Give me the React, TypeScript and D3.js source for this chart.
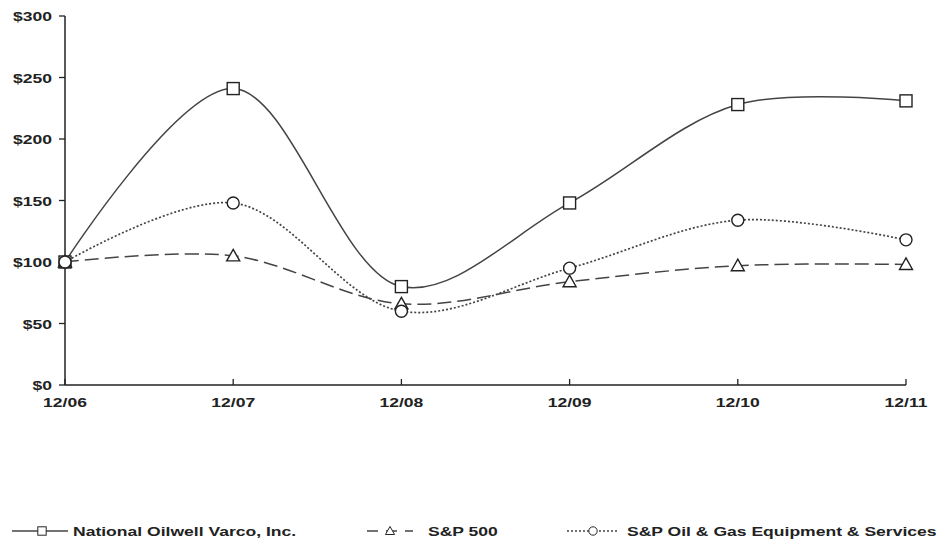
import { useEffect, useRef } from "react";
import * as d3 from "d3";

const periods = ["12/06", "12/07", "12/08", "12/09", "12/10", "12/11"];
const novValues = [100, 241, 80, 148, 228, 231];
const spxValues = [100, 105, 66, 84, 97, 98];
const oilGasValues = [100, 148, 60, 95, 134, 118];
const yTicks = [0, 50, 100, 150, 200, 250, 300];

type Marker = "square" | "triangle" | "circle";

const series: { name: string; values: number[]; dash: string; marker: Marker }[] = [
  { name: "National Oilwell Varco, Inc.", values: novValues, dash: "none", marker: "square" },
  { name: "S&P 500", values: spxValues, dash: "14 6", marker: "triangle" },
  { name: "S&P Oil & Gas Equipment & Services", values: oilGasValues, dash: "2 2", marker: "circle" },
];

const W = 940;
const H = 543;
const FONT = "'Liberation Sans', Arial, sans-serif";
const INK = "#222";
const LINE = "#444";
const SX = 1.3; // reference text is stretched horizontally

function drawMarker(
  g: d3.Selection<SVGGElement, unknown, null, undefined>,
  kind: Marker,
  x: number,
  y: number
) {
  if (kind === "square") {
    g.append("rect")
      .attr("x", x - 6)
      .attr("y", y - 6)
      .attr("width", 12)
      .attr("height", 12)
      .attr("fill", "white")
      .attr("stroke", INK)
      .attr("stroke-width", 1.4);
  } else if (kind === "triangle") {
    g.append("path")
      .attr("d", `M${x},${y - 6.5}L${x + 6.5},${y + 5}L${x - 6.5},${y + 5}Z`)
      .attr("fill", "white")
      .attr("stroke", INK)
      .attr("stroke-width", 1.4);
  } else {
    g.append("circle")
      .attr("cx", x)
      .attr("cy", y)
      .attr("r", 6)
      .attr("fill", "white")
      .attr("stroke", INK)
      .attr("stroke-width", 1.4);
  }
}

function addText(
  g: d3.Selection<SVGGElement, unknown, null, undefined>,
  x: number,
  y: number,
  str: string,
  anchor: string,
  size = 13.5
) {
  g.append("text")
    .attr("transform", `translate(${x},${y}) scale(${SX},1)`)
    .attr("text-anchor", anchor)
    .attr("font-family", FONT)
    .attr("font-weight", "bold")
    .attr("font-size", size)
    .attr("fill", INK)
    .text(str);
}

export default function App() {
  const svgRef = useRef<SVGSVGElement>(null);

  useEffect(() => {
    document.body.style.margin = "0";
    const svg = svgRef.current;
    if (!svg) return;
    const sel = d3.select(svg);
    sel.selectAll("*").remove();
    const root = sel.append("g");

    const x = d3.scalePoint<string>().domain(periods).range([65, 906]);
    const y = d3.scaleLinear().domain([0, 300]).range([385, 16]);

    // y axis
    root.append("line")
      .attr("x1", 65).attr("x2", 65)
      .attr("y1", y(300)).attr("y2", y(0))
      .attr("stroke", INK).attr("stroke-width", 1.5);
    yTicks.forEach((t) => {
      root.append("line")
        .attr("x1", 59).attr("x2", 65)
        .attr("y1", y(t)).attr("y2", y(t))
        .attr("stroke", INK).attr("stroke-width", 1.3);
      addText(root, 52, y(t) + 5, `$${t}`, "end");
    });

    // x axis
    root.append("line")
      .attr("x1", 65).attr("x2", 906)
      .attr("y1", y(0)).attr("y2", y(0))
      .attr("stroke", INK).attr("stroke-width", 1.5);
    periods.forEach((p) => {
      const px = x(p) ?? 0;
      root.append("line")
        .attr("x1", px).attr("x2", px)
        .attr("y1", y(0)).attr("y2", y(0) - 6)
        .attr("stroke", INK).attr("stroke-width", 1.3);
      addText(root, px, 407, p, "middle");
    });

    const line = d3
      .line<number>()
      .x((_, i) => x(periods[i]) ?? 0)
      .y((d) => y(d))
      .curve(d3.curveCatmullRom.alpha(0.5));

    // draw lines then markers
    series.forEach((s) => {
      root.append("path")
        .attr("d", line(s.values) ?? "")
        .attr("fill", "none")
        .attr("stroke", LINE)
        .attr("stroke-width", s.marker === "circle" ? 1.7 : 1.5)
        .attr("stroke-dasharray", s.dash);
    });
    series.forEach((s) => {
      s.values.forEach((v, i) => drawMarker(root, s.marker, x(periods[i]) ?? 0, y(v)));
    });

    // legend
    const legendY = 531;
    const legendItems = [
      { x1: 12, x2: 68, mx: 42, tx: 73 },
      { x1: 367, x2: 413, mx: 390, tx: 428 },
      { x1: 567, x2: 619, mx: 593, tx: 627 },
    ];
    series.forEach((s, i) => {
      const it = legendItems[i];
      const lg = root.append("g");
      lg.append("line")
        .attr("x1", it.x1).attr("x2", it.x2)
        .attr("y1", legendY).attr("y2", legendY)
        .attr("stroke", LINE)
        .attr("stroke-width", 1.4)
        .attr("stroke-dasharray", s.marker === "triangle" ? "11 8" : s.dash);
      const mg = lg.append("g")
        .attr("transform", `translate(${it.mx},${legendY}) scale(0.7)`);
      drawMarker(mg, s.marker, 0, 0);
      addText(lg, it.tx, legendY + 5, s.name, "start");
    });
  }, []);

  return <svg ref={svgRef} width={W} height={H} style={{ display: "block", background: "white" }} />;
}
